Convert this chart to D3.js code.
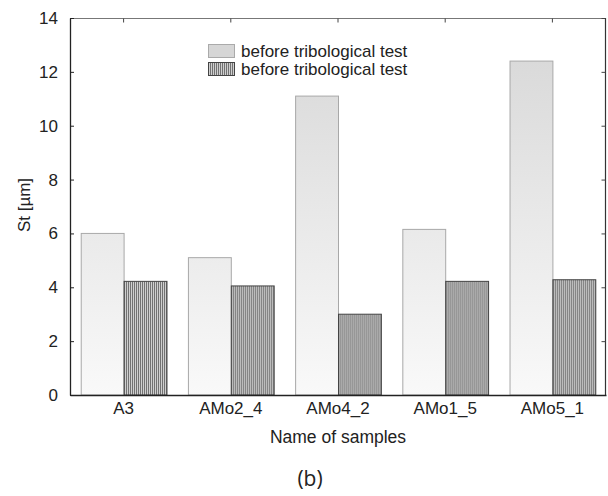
<!DOCTYPE html>
<html>
<head>
<meta charset="utf-8">
<script src="https://cdn.jsdelivr.net/npm/d3@7"></script>
<style>
  html, body { margin: 0; padding: 0; background: #fff; }
  svg { display: block; }
</style>
</head>
<body>
<svg id="chart" width="608" height="496"></svg>
<script>
// Sample names and roughness St values (µm)
const categories = ["A3", "AMo2_4", "AMo4_2", "AMo1_5", "AMo5_1"];
const seriesNames = ["before tribological test", "before tribological test"];
const seriesA = [6.0, 5.1, 11.1, 6.15, 12.4];
const seriesB = [4.22, 4.05, 3.0, 4.22, 4.28];
const yTicks = [0, 2, 4, 6, 8, 10, 12, 14];

const svg = d3.select("#chart");
const margin = { left: 70, top: 18, right: 2, bottom: 101 };
const W = 608, H = 496;
const x0 = margin.left, x1 = W - margin.right;
const y0 = H - margin.bottom, y1 = margin.top;

const x = d3.scaleBand().domain(categories).range([x0, x1]).paddingInner(0).paddingOuter(0);
const y = d3.scaleLinear().domain([0, 14]).range([y0, y1]);
const sub = d3.scaleBand().domain([0, 1]).range([0, x.bandwidth()]).paddingOuter(0.25).paddingInner(0);

const defs = svg.append("defs");
const grad = defs.append("linearGradient")
  .attr("id", "lightFill").attr("gradientUnits", "userSpaceOnUse")
  .attr("x1", 0).attr("x2", 0).attr("y1", y1).attr("y2", y0);
grad.append("stop").attr("offset", "0%").attr("stop-color", "#d6d6d6");
grad.append("stop").attr("offset", "100%").attr("stop-color", "#f9f9f9");

const hatch = defs.append("pattern")
  .attr("id", "vhatch").attr("patternUnits", "userSpaceOnUse")
  .attr("width", 2).attr("height", 4);
hatch.append("rect").attr("width", 2).attr("height", 4).attr("fill", "#cfcfcf");
hatch.append("rect").attr("width", 1).attr("height", 4).attr("fill", "#727272");

const fontMain = "'Liberation Sans', Arial, sans-serif";

// Bars
const groups = svg.append("g").selectAll("g").data(categories).join("g")
  .attr("transform", d => `translate(${x(d)},0)`);

groups.append("rect")
  .attr("x", sub(0) + 0.5)
  .attr("y", (d, i) => y(seriesA[i]))
  .attr("width", sub.bandwidth())
  .attr("height", (d, i) => y0 - y(seriesA[i]))
  .attr("fill", "url(#lightFill)")
  .attr("stroke", "#a8a8a8").attr("stroke-width", 1);

groups.append("rect")
  .attr("x", sub(1) + 0.5)
  .attr("y", (d, i) => y(seriesB[i]))
  .attr("width", sub.bandwidth())
  .attr("height", (d, i) => y0 - y(seriesB[i]))
  .attr("fill", "url(#vhatch)")
  .attr("stroke", "#444").attr("stroke-width", 1);

// Frame: left and bottom axes dark, top and right lighter
svg.append("line").attr("x1", x0).attr("x2", x1).attr("y1", y1 + 0.5).attr("y2", y1 + 0.5)
  .attr("stroke", "#777").attr("stroke-width", 1.2);
svg.append("line").attr("x1", x1 - 0.5).attr("x2", x1 - 0.5).attr("y1", y1).attr("y2", y0)
  .attr("stroke", "#333").attr("stroke-width", 1.2);

const yAxis = d3.axisLeft(y).tickValues(yTicks).tickSizeInner(-4).tickSizeOuter(0).tickPadding(12);
const gy = svg.append("g").attr("transform", `translate(${x0},0)`).call(yAxis);
gy.select(".domain").attr("stroke", "#222").attr("stroke-width", 1.3);
gy.selectAll(".tick line").attr("stroke", "#222");
gy.selectAll("text").attr("font-family", fontMain).attr("font-size", 17).attr("fill", "#222");

const yRight = d3.axisRight(y).tickValues(yTicks).tickSizeInner(-4).tickSizeOuter(0).tickFormat("");
const gyr = svg.append("g").attr("transform", `translate(${x1 - 0.5},0)`).call(yRight);
gyr.select(".domain").remove();
gyr.selectAll(".tick line").attr("stroke", "#444");

const xTop = d3.axisTop(x).tickSizeInner(-4).tickSizeOuter(0).tickFormat("");
const gxt = svg.append("g").attr("transform", `translate(0,${y1 + 0.5})`).call(xTop);
gxt.select(".domain").remove();
gxt.selectAll(".tick line").attr("stroke", "#444");

const xAxis = d3.axisBottom(x).tickSizeInner(0).tickSizeOuter(0).tickPadding(7);
const gx = svg.append("g").attr("transform", `translate(0,${y0})`).call(xAxis);
gx.select(".domain").attr("stroke", "#222").attr("stroke-width", 1.3);
gx.selectAll("text").attr("font-family", fontMain).attr("font-size", 17).attr("fill", "#222");

// Axis titles
svg.append("text")
  .attr("transform", "translate(30,205) rotate(-90)")
  .attr("text-anchor", "middle")
  .attr("font-family", fontMain).attr("font-size", 17).attr("fill", "#222")
  .text("St [µm]");

svg.append("text")
  .attr("x", 338).attr("y", 443)
  .attr("text-anchor", "middle")
  .attr("font-family", fontMain).attr("font-size", 17.5).attr("fill", "#222")
  .text("Name of samples");

svg.append("text")
  .attr("x", 310).attr("y", 486)
  .attr("text-anchor", "middle")
  .attr("font-family", "'Open Sans', 'Noto Sans', sans-serif").attr("font-size", 21).attr("fill", "#222")
  .text("(b)");

// Legend
const legend = svg.append("g").attr("transform", "translate(208,44)");
const fills = ["#d6d6d6", "url(#vhatch)"];
const strokes = ["#aaa", "#444"];
seriesNames.forEach((name, i) => {
  const g = legend.append("g").attr("transform", `translate(0,${i * 18})`);
  g.append("rect").attr("x", 0.5).attr("y", 0.5).attr("width", 26).attr("height", 13)
    .attr("fill", fills[i]).attr("stroke", strokes[i]);
  g.append("text").attr("x", 33).attr("y", 13)
    .attr("font-family", fontMain).attr("font-size", 17).attr("fill", "#222")
    .text(name);
});
</script>
</body>
</html>
